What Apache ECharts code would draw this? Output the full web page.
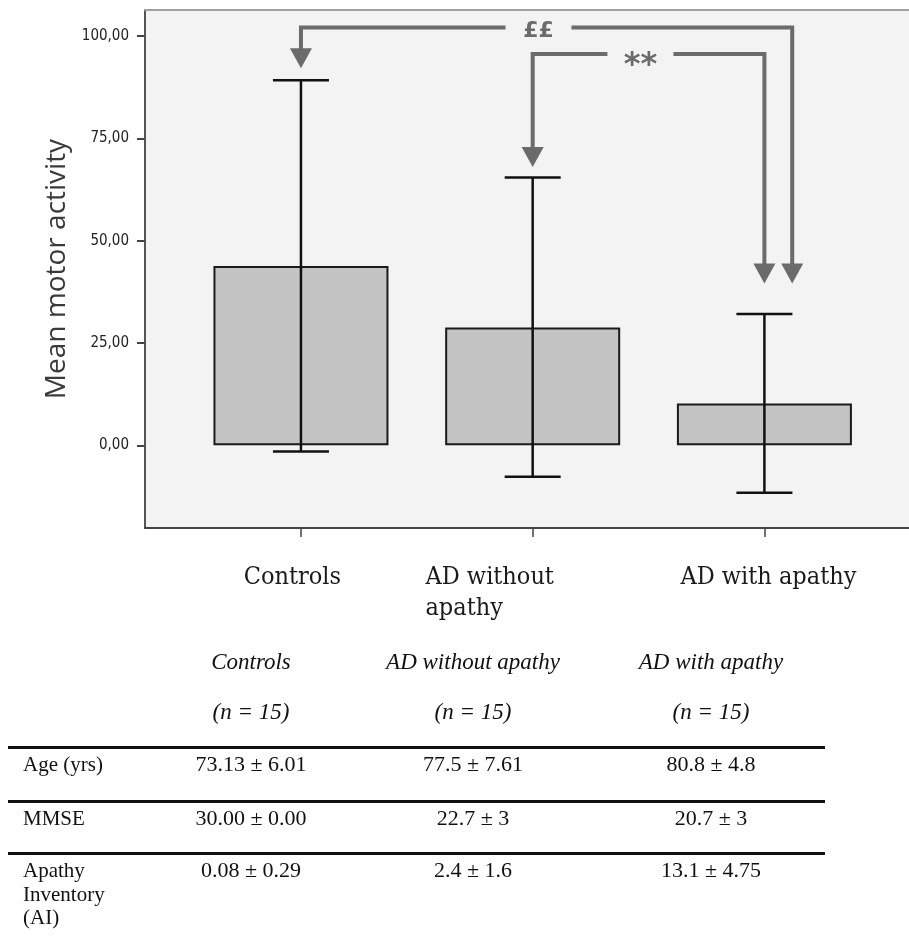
<!DOCTYPE html>
<html>
<head>
<meta charset="utf-8">
<title>Mean motor activity</title>
<script src="https://cdn.jsdelivr.net/npm/echarts@6/dist/echarts.min.js"></script>
<style>
  body { margin: 0; background: #fff; }
  #chart { position: absolute; left: 0; top: 0; width: 909px; height: 949px; }
  .cell {
    position: absolute;
    font-family: 'Liberation Serif', 'Times New Roman', serif;
    font-size: 22px;
    line-height: 24px;
    color: #111;
    white-space: pre-line;
  }
  .head { font-style: italic; font-size: 23px; }
  .rowname { font-size: 21px; line-height: 23.5px; }
  .rule { position: absolute; left: 8px; width: 817px; height: 3px; background: #111; }
</style>
</head>
<body>
<div id="chart"></div>
<div id="table"></div>
<script>
// groups on the x axis (positions 0, 1, 2)
const groups = ['Controls', 'AD without\napathy', 'AD with apathy'];
const groupPos = [0, 1, 2];
const meanActivity = [43.8, 28.8, 10.2];
const errLow = [-1.5, -7.7, -11.6];
const errHigh = [89.2, 65.4, 32.1];
const yTicks = [0, 25, 50, 75, 100];

// significance arrows
const sigLabels = ['££', '**'];
const sigFrom = [0, 1];
const sigTo = [2.12, 2];
const sigLevel = [102.1, 95.6];
const sigTipFrom = [92.1, 68.0];
const sigTipTo = [39.5, 39.5];
const sigLabelPos = [1.025, 1.465];

// table under the chart
const tableGroups = ['Controls', 'AD without apathy', 'AD with apathy'];
const tableN = ['(n = 15)', '(n = 15)', '(n = 15)'];
const rowNames = ['Age (yrs)', 'MMSE', 'Apathy\nInventory\n(AI)'];
const ageVals = ['73.13 ± 6.01', '77.5 ± 7.61', '80.8 ± 4.8'];
const mmseVals = ['30.00 ± 0.00', '22.7 ± 3', '20.7 ± 3'];
const aiVals = ['0.08 ± 0.29', '2.4 ± 1.6', '13.1 ± 4.75'];

const chart = echarts.init(document.getElementById('chart'));

const xMin = -0.673, xMax = 2.624;

const option = {
  backgroundColor: '#fff',
  animation: false,
  grid: {
    left: 145,
    right: 0,
    top: 10,
    height: 518,
    show: true,
    backgroundColor: '#f3f3f3',
    borderWidth: 0
  },
  xAxis: [
    {
      type: 'value',
      min: xMin,
      max: xMax,
      splitLine: { show: false },
      axisLine: { show: true, onZero: false, lineStyle: { color: '#444', width: 2 } },
      axisTick: { show: true, customValues: groupPos, length: 9, lineStyle: { color: '#444', width: 1.5 } },
      axisLabel: {
        customValues: groupPos,
        margin: 34,
        color: '#1a1a1a',
        fontFamily: 'DejaVu Serif Condensed, DejaVu Serif, serif',
        fontSize: 25,
        lineHeight: 31,
        formatter: function (v) {
          const i = groupPos.indexOf(Math.round(v));
          const lines = groups[i].split('\n');
          return lines.map(l => '{c' + i + '|' + l + '}').join('\n');
        },
        rich: {
          c0: { padding: [0, 17, 0, 0] },
          c1: { align: 'left', padding: [0, 86, 0, 0] },
          c2: { padding: [0, 0, 0, 8] }
        }
      }
    },
    {
      // top frame line
      type: 'value',
      position: 'top',
      min: xMin,
      max: xMax,
      splitLine: { show: false },
      axisLine: { show: true, onZero: false, lineStyle: { color: '#a0a0a0', width: 2 } },
      axisTick: { show: false },
      axisLabel: { show: false }
    }
  ],
  yAxis: {
    type: 'value',
    min: -20.22,
    max: 106.36,
    splitLine: { show: false },
    axisLine: { show: true, onZero: false, lineStyle: { color: '#555', width: 2 } },
    axisTick: { show: true, customValues: yTicks, length: 8, lineStyle: { color: '#444', width: 2 } },
    axisLabel: {
      customValues: yTicks,
      margin: 16,
      color: '#222',
      fontFamily: 'Liberation Sans Narrow, DejaVu Sans Condensed, sans-serif',
      fontSize: 15,
      formatter: v => v.toFixed(2).replace('.', ',')
    },
    name: 'Mean motor activity',
    nameLocation: 'middle',
    nameGap: 60,
    nameTextStyle: {
      fontFamily: 'Open Sans, sans-serif',
      fontSize: 28,
      color: '#3a3a3a'
    }
  },
  series: [
    {
      type: 'bar',
      data: groupPos.map((x, i) => [x, meanActivity[i]]),
      barWidth: 175,
      itemStyle: { color: '#c4c4c4', borderColor: '#1a1a1a', borderWidth: 2 },
      z: 2
    },
    {
      // error bars
      type: 'custom',
      data: groupPos.map((x, i) => [x, errLow[i], errHigh[i]]),
      z: 3,
      renderItem: function (params, api) {
        const x = api.value(0);
        const lo = api.coord([x, api.value(1)]);
        const hi = api.coord([x, api.value(2)]);
        const half = 28;
        const st = { stroke: '#111', lineWidth: 2.5 };
        return {
          type: 'group',
          children: [
            { type: 'line', shape: { x1: lo[0], y1: lo[1], x2: hi[0], y2: hi[1] }, style: st },
            { type: 'line', shape: { x1: hi[0] - half, y1: hi[1], x2: hi[0] + half, y2: hi[1] }, style: st },
            { type: 'line', shape: { x1: lo[0] - half, y1: lo[1], x2: lo[0] + half, y2: lo[1] }, style: st }
          ]
        };
      }
    },
    {
      // significance arrows
      type: 'custom',
      data: sigLabels.map((s, i) => [sigFrom[i], sigTo[i], sigLevel[i], sigTipFrom[i], sigTipTo[i], sigLabelPos[i]]),
      z: 4,
      renderItem: function (params, api) {
        const label = sigLabels[params.dataIndex];
        const level = api.value(2);
        const a = api.coord([api.value(0), level]);
        const b = api.coord([api.value(1), level]);
        const tipA = api.coord([api.value(0), api.value(3)]);
        const tipB = api.coord([api.value(1), api.value(4)]);
        const mid = api.coord([api.value(5), level]);
        const gap = 33;
        const head = 20, hw = 11;
        const color = '#6b6b6b';
        const st = { stroke: color, lineWidth: 4, fill: null };
        const big = label === '**';
        return {
          type: 'group',
          children: [
            { type: 'polyline', shape: { points: [[a[0], tipA[1] - head + 2], [a[0], a[1]], [mid[0] - gap, a[1]]] }, style: st },
            { type: 'polyline', shape: { points: [[mid[0] + gap, b[1]], [b[0], b[1]], [b[0], tipB[1] - head + 2]] }, style: st },
            { type: 'polygon', shape: { points: [[tipA[0] - hw, tipA[1] - head], [tipA[0] + hw, tipA[1] - head], [tipA[0], tipA[1]]] }, style: { fill: color } },
            { type: 'polygon', shape: { points: [[tipB[0] - hw, tipB[1] - head], [tipB[0] + hw, tipB[1] - head], [tipB[0], tipB[1]]] }, style: { fill: color } },
            {
              type: 'text',
              style: {
                text: label,
                x: mid[0],
                y: mid[1] + (big ? 12 : 4),
                align: 'center',
                verticalAlign: 'middle',
                font: big ? 'bold 32px DejaVu Sans' : 'bold 22px DejaVu Sans',
                fill: color
              }
            }
          ]
        };
      }
    }
  ]
};

chart.setOption(option);

// table below the chart
const table = document.getElementById('table');
const colCenter = [251, 473, 711];
function addCell(text, left, top, cls, width) {
  const d = document.createElement('div');
  d.className = 'cell' + (cls ? ' ' + cls : '');
  d.textContent = text;
  d.style.left = left + 'px';
  d.style.top = top + 'px';
  if (width) {
    d.style.width = width + 'px';
    d.style.textAlign = 'center';
  }
  table.appendChild(d);
}
tableGroups.forEach((g, i) => addCell(g, colCenter[i] - 110, 650, 'head', 220));
tableN.forEach((n, i) => addCell(n, colCenter[i] - 110, 700, 'head', 220));

const ruleTop = [746, 800, 852];
const rowVals = [ageVals, mmseVals, aiVals];
ruleTop.forEach((t, r) => {
  const line = document.createElement('div');
  line.className = 'rule';
  line.style.top = t + 'px';
  table.appendChild(line);
  addCell(rowNames[r], 23, t + 7, 'rowname');
  rowVals[r].forEach((v, i) => addCell(v, colCenter[i] - 110, t + 6, '', 220));
});
</script>
</body>
</html>
